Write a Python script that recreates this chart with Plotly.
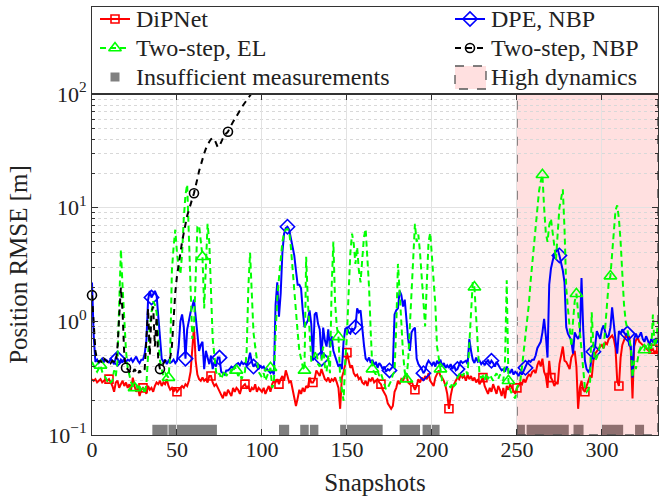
import plotly.graph_objects as go

# ---------------- data ----------------
dipnet = [
    0.31, 0.30, 0.31, 0.29, 0.30, 0.31, 0.29, 0.30, 0.31, 0.30,
    0.31, 0.29, 0.27, 0.24, 0.29, 0.30, 0.26, 0.28, 0.30, 0.27,
    0.29, 0.26, 0.28, 0.25, 0.32, 0.27, 0.24, 0.26, 0.22, 0.25,
    0.26, 0.25, 0.23, 0.27, 0.25, 0.26, 0.24, 0.27, 0.29, 0.28,
    0.30, 0.27, 0.29, 0.28, 0.31, 0.27, 0.25, 0.26, 0.24, 0.26,
    0.24, 0.25, 0.26, 0.27, 0.26, 0.28, 0.27, 0.30, 0.36, 0.55,
    0.90, 0.45, 0.34, 0.31, 0.30, 0.32, 0.30, 0.31, 0.29, 0.33,
    0.33, 0.29, 0.27, 0.28, 0.26, 0.25, 0.23, 0.21, 0.24, 0.22,
    0.25, 0.23, 0.22, 0.26, 0.24, 0.26, 0.25, 0.23, 0.26, 0.27,
    0.28, 0.26, 0.27, 0.24, 0.26, 0.25, 0.28, 0.24, 0.26, 0.25,
    0.24, 0.26, 0.23, 0.25, 0.27, 0.24, 0.28, 0.30, 0.29, 0.31,
    0.28, 0.31, 0.33, 0.30, 0.37, 0.33, 0.29, 0.30, 0.25, 0.22,
    0.18, 0.21, 0.25, 0.23, 0.26, 0.24, 0.27, 0.26, 0.32, 0.29,
    0.29, 0.31, 0.37, 0.35, 0.33, 0.38, 0.34, 0.31, 0.30, 0.32,
    0.29, 0.31, 0.30, 0.32, 0.29, 0.26, 0.17, 0.32, 0.36, 0.42,
    0.53, 0.46, 0.39, 0.41, 0.35, 0.33, 0.34, 0.31, 0.32, 0.29,
    0.28, 0.30, 0.27, 0.31, 0.30, 0.32, 0.29, 0.30, 0.31, 0.29,
    0.28, 0.25, 0.23, 0.22, 0.19, 0.18, 0.17, 0.18, 0.24, 0.26,
    0.30, 0.28, 0.31, 0.30, 0.33, 0.34, 0.29, 0.28, 0.30, 0.27,
    0.25, 0.27, 0.31, 0.29, 0.32, 0.30, 0.33, 0.31, 0.35, 0.30,
    0.28, 0.27, 0.32, 0.35, 0.37, 0.33, 0.32, 0.30, 0.27, 0.23,
    0.17, 0.22, 0.26, 0.28, 0.30, 0.32, 0.31, 0.34, 0.32, 0.33,
    0.30, 0.34, 0.31, 0.33, 0.30, 0.32, 0.29, 0.31, 0.28, 0.30,
    0.32, 0.27, 0.25, 0.23, 0.26, 0.24, 0.28, 0.25, 0.23, 0.27,
    0.25, 0.22, 0.26, 0.21, 0.27, 0.25, 0.28, 0.26, 0.24, 0.23,
    0.26, 0.27, 0.29, 0.28, 0.31, 0.29, 0.32, 0.34, 0.33, 0.36,
    0.37, 0.35, 0.41, 0.45, 0.40, 0.47, 0.36, 0.33, 0.26, 0.45,
    0.32, 0.30, 0.27, 0.29, 0.28, 0.42, 0.50, 0.60, 0.45, 0.44,
    0.41, 0.38, 0.48, 0.52, 0.55, 0.40, 0.17, 0.26, 0.30, 0.25,
    0.24, 0.27, 0.30, 0.33, 0.32, 0.45, 0.52, 0.55, 0.58, 0.60,
    0.62, 0.58, 0.65, 0.63, 0.70, 0.72, 0.75, 0.70, 0.58, 0.30,
    0.27, 0.48, 0.62, 0.68, 0.75, 0.72, 0.74, 0.55, 0.21, 0.60,
    0.68, 0.72, 0.66, 0.64, 0.62, 0.60, 0.58, 0.56, 0.59, 0.55,
    0.57, 0.53, 0.55, 0.52,
]

dpe_nbp = [
    2.2, 0.75, 0.44, 0.46, 0.43, 0.45, 0.47, 0.44, 0.46, 0.45,
    0.43, 0.47, 0.44, 0.42, 0.48, 0.47, 0.43, 0.46, 0.44, 0.45,
    0.44, 0.46, 0.45, 0.47, 0.44, 0.46, 0.49, 0.45, 0.43, 0.46,
    0.46, 0.52, 0.68, 1.55, 1.85, 1.62, 1.75, 1.85, 1.7, 1.1,
    0.62, 0.47, 0.44, 0.46, 0.42, 0.45, 0.43, 0.44, 0.46, 0.43,
    0.45, 0.60, 1.0, 1.15, 0.9, 0.47, 0.85, 1.05, 1.2, 1.35,
    1.55, 1.1, 0.75, 0.55, 0.62, 0.66, 0.38, 0.55, 0.48, 0.42,
    0.50, 0.38, 0.44, 0.40, 0.48, 0.48, 0.36, 0.35, 0.34, 0.37,
    0.37, 0.38, 0.40, 0.39, 0.41, 0.42, 0.43, 0.41, 0.44, 0.42,
    0.43, 0.41, 0.45, 0.53, 0.44, 0.40, 0.42, 0.40, 0.38, 0.41,
    0.39, 0.40, 0.37, 0.38, 0.36, 0.35, 0.37, 0.34, 1.4, 2.2,
    1.1, 1.75, 4.0, 5.9, 6.6, 6.8, 6.4, 5.5, 4.6, 3.8,
    2.8, 2.1, 2.1, 1.95, 1.24, 0.89, 0.95, 1.02, 1.25, 0.95,
    0.45, 1.15, 1.2, 0.95, 0.85, 0.47, 0.88, 0.68, 0.60, 0.85,
    0.59, 0.74, 0.55, 0.50, 0.44, 0.40, 0.42, 0.38, 0.66, 0.86,
    0.88, 0.80, 0.78, 0.86, 0.84, 0.89, 1.3, 1.2, 1.25, 0.85,
    0.62, 0.47, 0.45, 0.48, 0.43, 0.46, 0.41, 0.44, 0.39, 0.43,
    0.41, 0.38, 0.40, 0.36, 0.38, 0.37, 0.39, 0.40, 1.15, 1.25,
    1.3, 1.85, 1.7, 1.35, 1.55, 1.0, 0.70, 0.55, 0.80, 0.85,
    0.88, 0.47, 0.42, 0.40, 0.38, 0.35, 0.37, 0.42, 0.45, 0.43,
    0.41, 0.44, 0.40, 0.45, 0.42, 0.46, 0.40, 0.43, 0.39, 0.41,
    0.39, 0.42, 0.38, 0.41, 0.37, 0.38, 0.42, 0.45, 0.43, 0.44,
    0.45, 0.42, 0.70, 0.55, 0.46, 0.43, 0.48, 0.44, 0.45, 0.42,
    0.44, 0.41, 0.43, 0.46, 0.42, 0.45, 0.43, 0.40, 0.44, 0.41,
    0.39, 0.37, 0.38, 0.36, 0.40, 0.37, 0.35, 0.38, 0.34, 0.36,
    0.35, 0.33, 0.36, 0.34, 0.37, 0.39, 0.43, 0.45, 0.44, 0.46,
    0.46, 0.50, 0.58, 0.62, 0.66, 0.80, 1.05, 0.75, 0.48, 2.1,
    2.9, 3.4, 3.9, 4.2, 4.3, 3.8, 3.3, 2.8, 2.2, 0.89,
    0.78, 0.72, 0.68, 0.52, 0.80, 0.74, 0.70, 0.76, 2.4, 0.85,
    0.45, 0.38, 0.36, 0.38, 0.48, 0.54, 0.60, 0.82, 0.75, 0.70,
    0.85, 0.92, 0.80, 0.72, 0.75, 0.88, 1.33, 0.90, 0.68, 0.52,
    0.82, 0.78, 0.85, 0.80, 0.76, 0.78, 0.62, 0.60, 0.32, 0.70,
    0.78, 0.72, 0.74, 0.80, 0.70, 0.66, 0.74, 0.68, 0.62, 0.70,
    0.66, 0.70, 0.64, 0.68,
]

twostep_el = [
    0.44, 0.40, 0.38, 0.36, 0.39, 0.41, 0.36, 0.34, 0.32, 0.30,
    0.31, 0.29, 0.30, 0.37, 0.33, 0.45, 1.4, 4.3, 2.0, 0.9,
    0.55, 0.39, 0.33, 0.29, 0.27, 0.26, 0.28, 0.25, 0.27, 0.24,
    0.26, 0.23, 0.28, 0.55, 0.9, 1.2, 1.5, 1.4, 1.2, 0.7,
    0.45, 0.38, 0.33, 0.35, 0.33, 0.32, 0.50, 2.8, 4.5, 6.4,
    4.0, 3.0, 2.6, 3.9, 8.0, 13.0, 16.0, 6.0, 1.8, 0.7,
    0.9, 2.5, 6.8, 7.0, 5.0, 3.7, 1.3, 2.8, 7.2, 5.0,
    1.8, 0.7, 0.5, 0.36, 0.33, 0.35, 0.31, 0.34, 0.37, 0.33,
    0.35, 0.34, 0.38, 0.36, 0.40, 0.37, 0.33, 0.35, 0.31, 0.34,
    0.36, 0.55, 2.0, 4.0, 1.6, 0.8, 0.6, 0.45, 0.36, 0.34,
    0.32, 0.35, 0.30, 0.33, 0.36, 0.39, 0.26, 0.28, 0.75, 1.6,
    2.4, 3.5, 5.0, 6.0, 6.4, 6.5, 6.2, 4.5, 2.8, 1.8,
    1.2, 0.8, 0.55, 0.45, 0.40, 0.37, 3.7, 1.5, 0.7, 0.45,
    0.45, 0.52, 0.55, 0.42, 0.40, 0.45, 0.60, 0.40, 0.36, 0.50,
    0.35, 2.0, 5.0, 1.5, 0.9, 0.73, 0.32, 0.25, 0.20, 0.45,
    0.75, 1.8, 4.0, 5.9, 4.8, 3.2, 4.5, 2.8, 2.2, 3.5,
    5.5, 6.5, 4.0, 2.0, 0.8, 0.38, 0.36, 0.34, 0.37, 0.33,
    0.35, 0.31, 0.27, 0.25, 0.26, 0.28, 0.30, 0.34, 0.36, 0.9,
    3.2, 1.8, 0.9, 0.52, 0.36, 0.31, 0.45, 0.9, 2.0, 3.6,
    7.2, 5.0, 5.8, 4.0, 2.5, 1.5, 0.9, 2.2, 5.0, 6.0,
    3.5, 2.0, 1.4, 0.6, 0.45, 0.38, 0.30, 0.28, 0.27, 0.29,
    0.28, 0.26, 0.29, 0.27, 0.28, 0.32, 0.34, 0.36, 0.33, 0.35,
    0.37, 0.34, 0.6, 1.2, 2.2, 2.0, 1.2, 0.6, 0.34, 0.32,
    0.33, 0.30, 0.35, 0.31, 0.34, 0.32, 0.30, 0.33, 0.35, 0.31,
    0.34, 0.32, 0.30, 0.45, 2.3, 0.30, 0.25, 0.23, 0.22, 0.21,
    0.26, 0.28, 0.30, 0.40, 0.55, 0.75, 1.0, 1.4, 2.2, 3.2,
    5.0, 7.5, 10.5, 14.0, 17.0, 19.5, 10.0, 6.0, 5.0, 7.0,
    8.0, 6.0, 4.5, 3.5, 6.0, 10.0, 12.0, 14.5, 6.5, 2.0,
    1.3, 0.8, 0.6, 1.0, 1.5, 1.75, 1.2, 0.7, 0.5, 0.35,
    0.26, 0.24, 0.25, 0.28, 1.2, 0.6, 0.45, 0.48, 0.55, 0.62,
    0.60, 0.58, 0.9, 1.5, 2.2, 2.5, 4.0, 7.0, 9.5, 10.5,
    8.0, 5.0, 2.5, 1.4, 1.0, 0.85, 0.75, 0.60, 0.32, 0.45,
    0.38, 0.48, 0.55, 0.60, 0.58, 0.56, 0.62, 0.65, 0.58, 0.55,
    1.15, 0.60, 0.68, 1.0,
]

twostep_nbp = [
    1.7, 0.9, 0.55, 0.46, 0.44, 0.45, 0.43, 0.47, 0.45, 0.44,
    0.46, 0.43, 0.45, 0.44, 0.43, 0.60, 1.2, 2.0, 1.2, 0.5,
    0.39, 0.38, 0.36, 0.37, 0.35, 0.38, 0.36, 0.34, 0.37, 0.35,
    0.36, 0.38, 0.70, 1.3, 0.5, 1.2, 1.35, 0.6, 1.1, 0.45,
    0.38, 0.40, 0.43, 0.45, 0.44, 0.46, 0.48, 0.6, 1.1, 1.8,
    2.5, 3.2, 4.0, 5.0, 6.0, 7.5, 8.5, 9.5, 11.0, 12.0,
    13.4, 16, 18, 21, 24, 27, 30, 33, 36, 38,
    40, 41, 40, 37, 34, 35, 38, 41, 44, 45,
    46.6, 50, 54, 57, 60, 64, 68, 72, 76, 80,
    84, 88, 92, 96, 100, 106, 112,
]

insuff_start = [35.5, 45.0, 110.0, 122.5, 128.2, 146.0, 181.0, 194.5, 250.0, 255.7, 283.3, 299.8, 319.5]
insuff_end = [44.5, 73.5, 116.0, 127.5, 133.2, 171.0, 193.0, 204.5, 254.7, 280.5, 289.2, 312.5, 324.8]
high_dyn = [250, 333]

x_range = [0, 333]
x_ticks = [0, 50, 100, 150, 200, 250, 300]
y_ticks = [0.1, 1, 10, 100]
y_ticktext = ["10<sup>\u22121</sup>", "10<sup>0</sup>", "10<sup>1</sup>", "10<sup>2</sup>"]
y_minor = [m * 10.0 ** e for e in (-1, 0, 1) for m in range(2, 10)]

# series: name, values, colour, dash, symbol, size, marker offset
series = [
    ("DiPNet", dipnet, "#ff0000", "solid", "square-open", 8, 10),
    ("DPE, NBP", dpe_nbp, "#0000ff", "solid", "diamond-open", 11, 15),
    ("Two-step, EL", twostep_el, "#00ff00", "6px,4px", "triangle-up-open", 11, 5),
    ("Two-step, NBP", twostep_nbp, "#000000", "6px,5px", "circle-open", 9, 0),
]
MARK_STEP = 20

# legend layout (legend axes use pixel-like units: x 92..658, y 7..94 top-down)
leg_slots = [(100, 19), (455, 19), (100, 48), (455, 48), (100, 77), (455, 77)]
leg_names = [s[0] for s in series] + ["Insufficient measurements", "High dynamics"]

FONT = "Liberation Serif"
TXT = "#222222"

W, H = 659, 498
M_L, M_R, M_T, M_B = 92, 1, 7, 63
PLOT_TOP, PLOT_BOT = 94, 435
inner_h = H - M_T - M_B
split = (PLOT_BOT - PLOT_TOP) / inner_h

fig = go.Figure()

for name, vals, col, dash, sym, size, off in series:
    xs = list(range(len(vals)))
    fig.add_trace(go.Scatter(x=xs, y=vals, mode="lines",
                             line=dict(color=col, width=2, dash=dash),
                             showlegend=False, hoverinfo="skip"))
    idx = [i for i in range(off, len(vals), MARK_STEP) if vals[i] <= 100]
    fig.add_trace(go.Scatter(x=idx, y=[vals[i] for i in idx], mode="markers",
                             marker=dict(symbol=sym, size=size, color=col,
                                         line=dict(width=1.6, color=col)),
                             showlegend=False, cliponaxis=False, hoverinfo="skip"))

# ---- hand-built legend in its own axes above the plot ----
annotations = []
shapes = []
for k, (name, vals, col, dash, sym, size, off) in enumerate(series):
    lx, ly = leg_slots[k]
    fig.add_trace(go.Scatter(x=[lx, lx + 30], y=[ly, ly], mode="lines", xaxis="x2", yaxis="y2",
                             line=dict(color=col, width=2, dash=dash),
                             showlegend=False, hoverinfo="skip"))
    fig.add_trace(go.Scatter(x=[lx + 15], y=[ly], mode="markers", xaxis="x2", yaxis="y2",
                             marker=dict(symbol=sym, size=size, color=col,
                                         line=dict(width=1.6, color=col)),
                             showlegend=False, hoverinfo="skip"))
lx, ly = leg_slots[4]
fig.add_trace(go.Scatter(x=[lx + 15], y=[ly], mode="markers", xaxis="x2", yaxis="y2",
                         marker=dict(symbol="square", size=9, color="#808080"),
                         showlegend=False, hoverinfo="skip"))
lx, ly = leg_slots[5]
shapes.append(dict(type="rect", xref="x2", yref="y2", x0=lx, x1=lx + 31, y0=ly - 11, y1=ly + 12,
                   fillcolor="#ffe0e0", line=dict(color="#555555", width=1.3, dash="dash")))
for k, name in enumerate(leg_names):
    lx, ly = leg_slots[k]
    annotations.append(dict(text=name, xref="x2", yref="y2", x=lx + 34, y=ly,
                            xanchor="left", yanchor="middle", showarrow=False,
                            font=dict(family=FONT, size=24, color=TXT)))

for s, e in zip(insuff_start, insuff_end):
    shapes.append(dict(type="rect", xref="x", yref="y domain", x0=s, x1=e, y0=0, y1=0.03,
                       fillcolor="#808080", line=dict(width=0), layer="below"))
shapes.append(dict(type="rect", xref="x", yref="y domain", x0=high_dyn[0], x1=high_dyn[1],
                   y0=0, y1=1, fillcolor="rgba(255,0,0,0.12)",
                   line=dict(color="#555555", width=1.5, dash="dash"), layer="below"))

fig.update_layout(
    width=W, height=H,
    margin=dict(l=M_L, r=M_R, t=M_T, b=M_B),
    paper_bgcolor="white", plot_bgcolor="white",
    font=dict(family=FONT, color=TXT, size=22),
    shapes=shapes, annotations=annotations,
    showlegend=False,
    xaxis=dict(domain=[0, 1], range=x_range, tickmode="array", tickvals=x_ticks,
               ticks="inside", ticklen=6, tickcolor="#333333",
               showline=True, linecolor="#333333", linewidth=1, mirror="ticks",
               showgrid=True, gridcolor="#e2e2e2", gridwidth=1, zeroline=False,
               automargin=False, ticklabelstandoff=-5,
               tickfont=dict(size=22, family=FONT, color=TXT),
               title=dict(text="Snapshots", font=dict(size=25, family=FONT, color=TXT), standoff=12)),
    yaxis=dict(domain=[0, split], type="log", range=[-1, 2], tickmode="array",
               tickvals=y_ticks, ticktext=y_ticktext,
               ticks="inside", ticklen=6, tickcolor="#333333",
               showline=True, linecolor="#333333", linewidth=1, mirror="ticks",
               showgrid=True, gridcolor="#e2e2e2", gridwidth=1, zeroline=False,
               automargin=False,
               minor=dict(tickmode="array", tickvals=y_minor, ticks="inside", ticklen=3,
                          tickcolor="#333333", showgrid=True, gridcolor="#d8d8d8",
                          griddash="dot", gridwidth=1),
               tickfont=dict(size=22, family=FONT, color=TXT),
               title=dict(text="Position RMSE [m]", font=dict(size=25, family=FONT, color=TXT), standoff=13)),
    xaxis2=dict(domain=[0, 1], range=[M_L, W - M_R], anchor="y2", visible=True,
                showticklabels=False, ticks="", showgrid=False, zeroline=False,
                showline=True, mirror=True, linecolor="#333333", linewidth=1.2,
                automargin=False),
    yaxis2=dict(domain=[split, 1], range=[PLOT_TOP, M_T], anchor="x2",
                showticklabels=False, ticks="", showgrid=False, zeroline=False,
                showline=True, mirror=True, linecolor="#333333", linewidth=1.2,
                automargin=False),
)

fig.write_html("out.html", config={"displayModeBar": False},
               post_script="document.body.style.margin='0px';document.body.style.padding='0px';")
